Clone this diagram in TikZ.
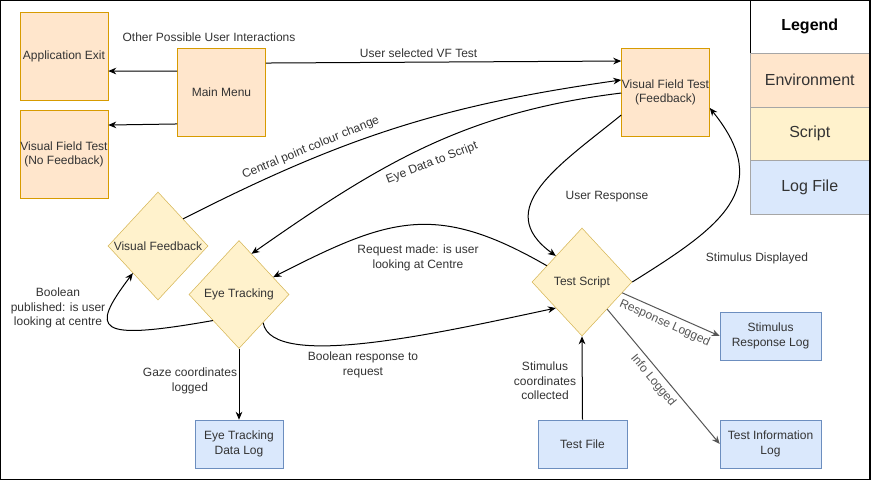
\documentclass[tikz,border=0pt]{standalone}
\usepackage{fontspec}
\setmainfont{Liberation Sans}
\usetikzlibrary{shapes.geometric, arrows.meta, calc}

\definecolor{envfill}{HTML}{FFE6CC}
\definecolor{envdraw}{HTML}{D79B00}
\definecolor{scrfill}{HTML}{FFF2CC}
\definecolor{scrdraw}{HTML}{D6B656}
\definecolor{logfill}{HTML}{DAE8FC}
\definecolor{logdraw}{HTML}{6C8EBF}
\definecolor{linegrey}{HTML}{555555}
\definecolor{txtgrey}{HTML}{333333}

\begin{document}
\begin{tikzpicture}[x = 0.75pt, y = -0.75pt,
		font = \fontsize{9pt}{10.9pt}\selectfont, text = txtgrey,
		env/.style = {draw = envdraw, fill = envfill, minimum width = 66pt, minimum height = 66pt, align = center, inner sep = 0pt},
		script/.style = {diamond, draw = scrdraw, fill = scrfill, minimum width = 75pt, minimum height = 81pt, inner sep = 0pt},
		logfile/.style = {draw = logdraw, fill = logfill, minimum height = 36pt, align = center, inner sep = 0pt},
		legendbox/.style = {draw = gray!70, minimum width = 89.6pt, minimum height = 40.1pt, font = \fontsize{12pt}{14pt}\selectfont},
		flow/.style = {-{Stealth[length = 6pt, width = 5pt]}, line width = 0.75pt}]
					\useasboundingbox (0,0) rectangle (871,481);

					\begin{scope}
						\node [env] (appexit) at (64,56.5) {Application Exit};
						\node [env] (nofb) at (64,154.5) {Visual Field Test\\(No Feedback)};
						\node [env] (mainmenu) at (221.5,92.5) {Main Menu};
						\node [env] (vftest) at (665.5,92.5) {Visual Field Test\\(Feedback)};
						\node [script, label = center:{Visual Feedback}] (vfeed) at (158,246) {};
						\node [script, label = center:{Eye Tracking}] (eyetrack) at (239,294.5) {};
						\node [script, label = center:{Test Script}] (tscript) at (582,282) {};
						\node [logfile, minimum width = 66pt] (etlog) at (239,444) {Eye Tracking\\Data Log};
						\node [logfile, minimum width = 66.75pt] (tfile) at (582.5,444) {Test File};
						\node [logfile, minimum width = 75.75pt] (srlog) at (770.5,336) {Stimulus\\Response Log};
						\node [logfile, minimum width = 75.75pt] (tilog) at (770.5,444) {Test Information\\Log};
					\end{scope}

					\begin{scope}[flow]
						\draw ([yshift = 16pt]mainmenu.west) -- ([yshift = -10.9pt]appexit.east);
						\draw ([yshift = -23.6pt]mainmenu.west) -- ([yshift = 22.1pt]nofb.east);
						\draw ([yshift = 22.1pt]mainmenu.east) -- node [above, pos = 0.43] {User selected VF Test} ([yshift = 23.6pt]vftest.west);
						\draw ($(vfeed.north)!0.5!(vfeed.east)$) to [out = 27, in = 188] node [pos = 0.3, above, sloped] {Central point colour change} ([yshift = 9.4pt]vftest.west);
						\draw ([yshift = -0.4pt]vftest.west) to [out = 187, in = 35] ($(eyetrack.north)!0.25!(eyetrack.east)$);
						\draw ([yshift = -16.9pt]vftest.west) to [out = 219, in = 144, distance = 60pt] ($(tscript.west)!0.48!(tscript.north)$);
						\draw (tscript.east) to [out = 32, in = -51, distance = 78pt] ([yshift = -11.6pt]vftest.east);
						\draw ($(tscript.west)!0.3!(tscript.north)$) to [out = 150, in = 27, distance = 97pt] ($(eyetrack.north)!0.68!(eyetrack.east)$);
						\draw ($(eyetrack.east)!0.52!(eyetrack.south)$) to [out = -80, in = 192, out distance = 37pt, in distance = 86pt] ($(tscript.west)!0.48!(tscript.south)$);
						\draw ($(eyetrack.west)!0.48!(eyetrack.south)$) to [out = 190, in = 233, out distance = 90pt, in distance = 54pt] ($(vfeed.west)!0.5!(vfeed.south)$);
						\draw (eyetrack.south) -- (etlog.north);
						\draw (tfile.north) -- (tscript.south);
						\draw [linegrey] ($(tscript.east)!0.2!(tscript.south)$) -- node [sloped, below, pos = 0.48] {Response Logged} (srlog.west);
						\draw [linegrey] ($(tscript.east)!0.5!(tscript.south)$) -- node [sloped, below, pos = 0.48] {Info Logged} (tilog.west);
					\end{scope}

					\begin{scope}[align = center]
						\node (lother) at (209,37) {Other Possible User Interactions};
						\node [rotate = 21] (leyedata) at (432,163) {Eye Data to Script};
						\node (lbool) at (58,308) {Boolean\\published: is user\\looking at centre};
						\node (lgaze) at (190,381) {Gaze coordinates\\logged};
						\node (lresp) at (363,365) {Boolean response to\\request};
						\node (lreq) at (418,258) {Request made: is user\\looking at Centre};
						\node (lstimc) at (545,381) {Stimulus\\coordinates\\collected};
						\node (lstimd) at (757,258) {Stimulus Displayed};
						\node (luser) at (607,197) {User Response};
					\end{scope}

					\begin{scope}
						\node [legendbox, draw = black, fill = white, font = \fontsize{12pt}{14pt}\selectfont\bfseries, text = black] (leg) at (809.75,26.75) {Legend};
						\node [legendbox, fill = envfill] (legenv) at (809.75,80.25) {Environment};
						\node [legendbox, fill = scrfill] (legscr) at (809.75,133.75) {Script};
						\node [legendbox, fill = logfill] (leglog) at (809.75,187.25) {Log File};
					\end{scope}

					\draw [line width = 1.1pt] (0.75,0.75) rectangle (870,479.5);
				\end{tikzpicture}
\end{document}
